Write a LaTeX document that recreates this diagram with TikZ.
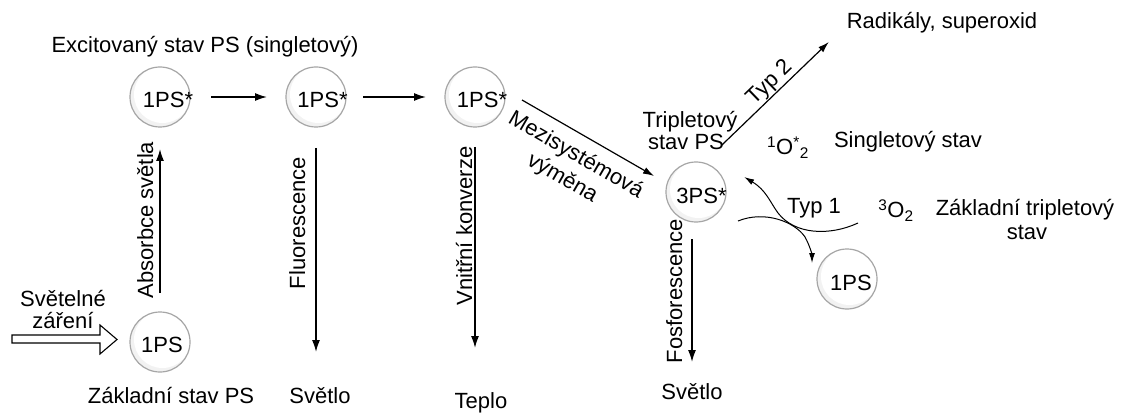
\documentclass[tikz,border=0pt]{standalone}
\usepackage{fontspec}
\setmainfont{Liberation Sans}
\usetikzlibrary{arrows.meta}
\begin{document}
\begin{tikzpicture}[x=1pt,y=-1pt,
  every node/.style={inner sep=0pt, outer sep=0pt, font=\fontsize{22}{24}\selectfont, text=black},
  lbl/.style={anchor=base},
  vlbl/.style={anchor=base, rotate=90},
  state/.style={circle, minimum size=60pt, draw=gray!70, line width=1.2pt, fill=white,
    path picture={\fill[gray!10] (path picture bounding box.center) circle (30pt);
                  \fill[white] ([shift={(2.5pt,2.5pt)}]path picture bounding box.center) circle (28.5pt);}},
  arr/.style={-{Latex[length=12pt,width=8pt]}, line width=1.5pt},
  sarr/.style={-{Latex[length=11pt,width=7pt]}, line width=1.2pt},
  carr/.style={-{Latex[length=10pt,width=6pt]}, line width=1pt},
]
\useasboundingbox (0,0) rectangle (1121,414);

% states of the photosensitiser
\node[state] (s0) at (160,342) {};
\node[state] (s1) at (160,97) {};
\node[state] (s2) at (316,97) {};
\node[state] (s3) at (475,97) {};
\node[state] (t)  at (696,192) {};
\node[state] (g)  at (847,279) {};

\node[lbl] (s0t) at ([shift={(2,10)}]s0.center) {1PS};
\node[lbl] (s1t) at ([shift={(8,11)}]s1.center) {1PS*};
\node[lbl] (s2t) at ([shift={(6.5,11)}]s2.center) {1PS*};
\node[lbl] (s3t) at ([shift={(7,11)}]s3.center) {1PS*};
\node[lbl] (tt)  at ([shift={(5.5,12)}]t.center) {3PS*};
\node[lbl] (gt)  at ([shift={(4,11)}]g.center) {1PS};

% plain labels
\node[lbl] (exc) at (205,53) {Excitovaný stav PS (singletový)};
\node[lbl] (zak) at (171,403) {Základní stav PS};
\node[lbl] (sv1) at (320,403) {Světlo};
\node[lbl] (tep) at (481,408) {Teplo};
\node[lbl] (sv2) at (692,399) {Světlo};
\node[lbl] (rad) at (942,29) {Radikály, superoxid};
\node[lbl] (trip1) at (690,128) {Tripletový};
\node[lbl] (trip2) at (686,150) {stav PS};
\node[lbl] (o1) at (788,155) {\textsuperscript{1}O\textsuperscript{*}\textsubscript{2}};
\node[lbl] (sing) at (908,148) {Singletový stav};
\node[lbl] (typ1) at (814,213) {Typ 1};
\node[lbl] (o3) at (896,218) {\textsuperscript{3}O\textsubscript{2}};
\node[lbl] (zt1) at (1025,215) {Základní tripletový};
\node[lbl] (zt2) at (1027,239) {stav};
\node[lbl] (se1) at (63,306) {Světelné};
\node[lbl] (se2) at (63,328) {záření};

% labels along the transitions
\node[vlbl] (abs) at (153,220) {Absorbce světla};
\node[vlbl] (flu) at (305,223) {Fluorescence};
\node[vlbl] (vnk) at (472,226) {Vnitřní konverze};
\node[vlbl] (fos) at (682,291) {Fosforescence};
\node[rotate=-30, align=center, font=\fontsize{22}{27}\selectfont] (mz) at (569,167) {Mezisystémová\\výměna};
\node[lbl, rotate=44] (typ2) at (774,87) {Typ 2};

% incoming light
\draw[line width=1.1pt, fill=white, line join=miter]
  (12,335) -- (100,335) -- (100,325) -- (117,339.5) -- (100,354) -- (100,343) -- (12,343) -- cycle;

% transitions
\draw[arr] ([yshift=19pt]s0.north) -- ([yshift=-22pt]s1.south);
\draw[arr] ([xshift=21pt]s1.east) -- ([xshift=-19pt]s2.west);
\draw[arr] ([xshift=17pt]s2.east) -- ([xshift=-19pt]s3.west);
\draw[arr] ([yshift=-21pt]s2.south) -- ([shift={(-4,-51)}]sv1.base);
\draw[arr] ([yshift=-20pt]s3.south) -- ([shift={(-6,-60)}]tep.base);
\draw[sarr] ([shift={(47,3)}]s3.center) -- ([shift={(-42,-16)}]t.center);
\draw[sarr] ([shift={(-2,-5)}]trip2.base east) -- ([shift={(-18,13)}]rad.base west);
\draw[arr] ([shift={(-4,17)}]t.south) -- ([yshift=37pt]sv2.base);

% type 1 reaction: crossing curves
\coordinate (ca) at (858,223);
\coordinate (cb) at (738,221);
\draw[carr] (ca) .. controls (830,236) and (795,235) .. (778,213)
                 .. controls (770,202) and (766,190) .. ([shift={(-23,22)}]o1.base west);
\draw[carr] (cb) .. controls (765,210) and (795,222) .. (805,237)
                 .. controls (810,246) and (812,255) .. ([shift={(-35,-16)}]g.center);
\end{tikzpicture}
\end{document}
